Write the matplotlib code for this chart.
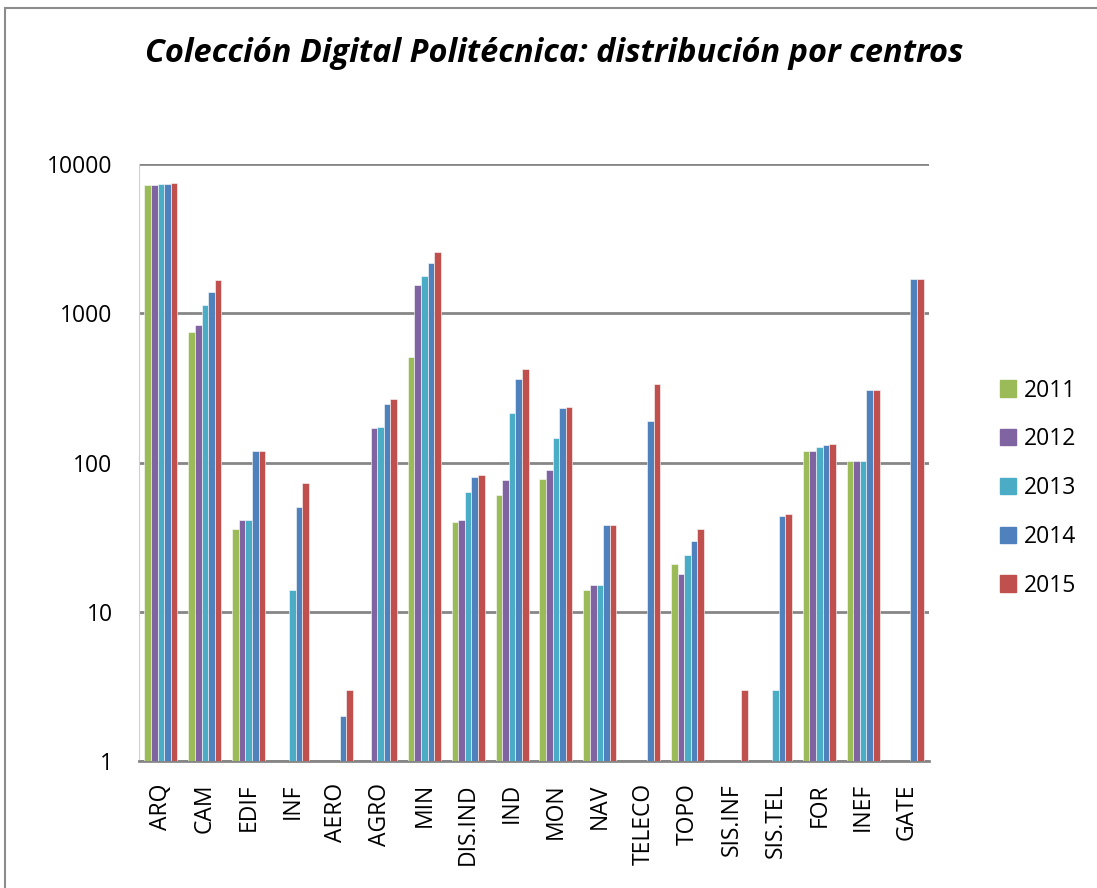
"""Colección Digital Politécnica: distribución por centros"""
import matplotlib
matplotlib.use("Agg")
import matplotlib.pyplot as plt
import numpy as np
from matplotlib.patches import Rectangle

centros = ['ARQ', 'CAM', 'EDIF', 'INF', 'AERO', 'AGRO', 'MIN', 'DIS.IND', 'IND',
           'MON', 'NAV', 'TELECO', 'TOPO', 'SIS.INF', 'SIS.TEL', 'FOR', 'INEF', 'GATE']
years = ['2011', '2012', '2013', '2014', '2015']

nan = np.nan
v2011 = [7270, 754, 36, nan, nan, nan, 510, 40, 61, 78, 14, nan, 21, nan, nan, 119, 102, nan]
v2012 = [7270, 840, 41, nan, nan, 169, 1540, 41, 76, 89, 15, nan, 18, nan, nan, 120, 102, nan]
v2013 = [7330, 1140, 41, 14, nan, 172, 1790, 63, 216, 147, 15, nan, 24, nan, 3, 127, 102, nan]
v2014 = [7400, 1390, 120, 50, 2, 246, 2170, 80, 362, 231, 38, 190, 30, nan, 44, 131, 304, 1690]
v2015 = [7420, 1675, 120, 73, 3, 265, 2570, 83, 423, 236, 38, 337, 36, 3, 45, 134, 304, 1690]

colors = ['#9BBB59', '#8064A2', '#4BACC6', '#4F81BD', '#C0504D']
series = [v2011, v2012, v2013, v2014, v2015]

plt.rcParams['font.family'] = ['Open Sans', 'DejaVu Sans']

fig = plt.figure(figsize=(10.97, 8.88), dpi=100)
ax = fig.add_axes([139 / 1097, 1 - 761 / 888, 790 / 1097, 597 / 888])

# chart border (only left and top visible in the crop)
fig.patches.append(Rectangle((5 / 1097, -0.1), 1.2, 1 - 8 / 888 + 0.1,
                             transform=fig.transFigure, fill=False,
                             edgecolor='#8C8C8C', linewidth=1.5))

x = np.arange(len(centros))
w = 0.15
for i, (vals, col, yr) in enumerate(zip(series, colors, years)):
    ax.bar(x + (i - 2) * w, vals, width=w, color=col, label=yr,
           edgecolor='white', linewidth=0.4, zorder=3)

ax.set_yscale('log')
ax.set_ylim(1, 10000)
ax.set_xlim(-0.5, len(centros) - 0.5)
ax.set_yticks([1, 10, 100, 1000, 10000])
ax.set_yticklabels(['1', '10', '100', '1000', '10000'])
ax.minorticks_off()
ax.yaxis.grid(True, color='#868686', linewidth=2, zorder=0)
ax.set_axisbelow(True)

ax.set_xticks(x)
ax.set_xticklabels(centros, rotation=90)
ax.tick_params(axis='both', length=0, labelsize=16.5)
ax.tick_params(axis='x', pad=16)
ax.tick_params(axis='y', pad=19)

for side in ['top', 'right']:
    ax.spines[side].set_visible(False)
ax.spines['left'].set_color('#D0D0D0')
ax.spines['bottom'].set_color('#868686')
ax.spines['bottom'].set_linewidth(2)

fig.text(0.505, 1 - 54 / 888, 'Colección Digital Politécnica: distribución por centros',
         ha='center', va='center', fontsize=23.4, fontweight='bold', fontstyle='italic')

handles = [Rectangle((0, 0), 1, 1, color=c) for c in colors]
fig.legend(handles, years, loc='center left', bbox_to_anchor=(979 / 1097, 1 - 488 / 888),
           frameon=False, fontsize=16.5, handlelength=0.7, handleheight=0.7,
           handletextpad=0.35, labelspacing=1.08)

fig.savefig('out.png', dpi=100)
